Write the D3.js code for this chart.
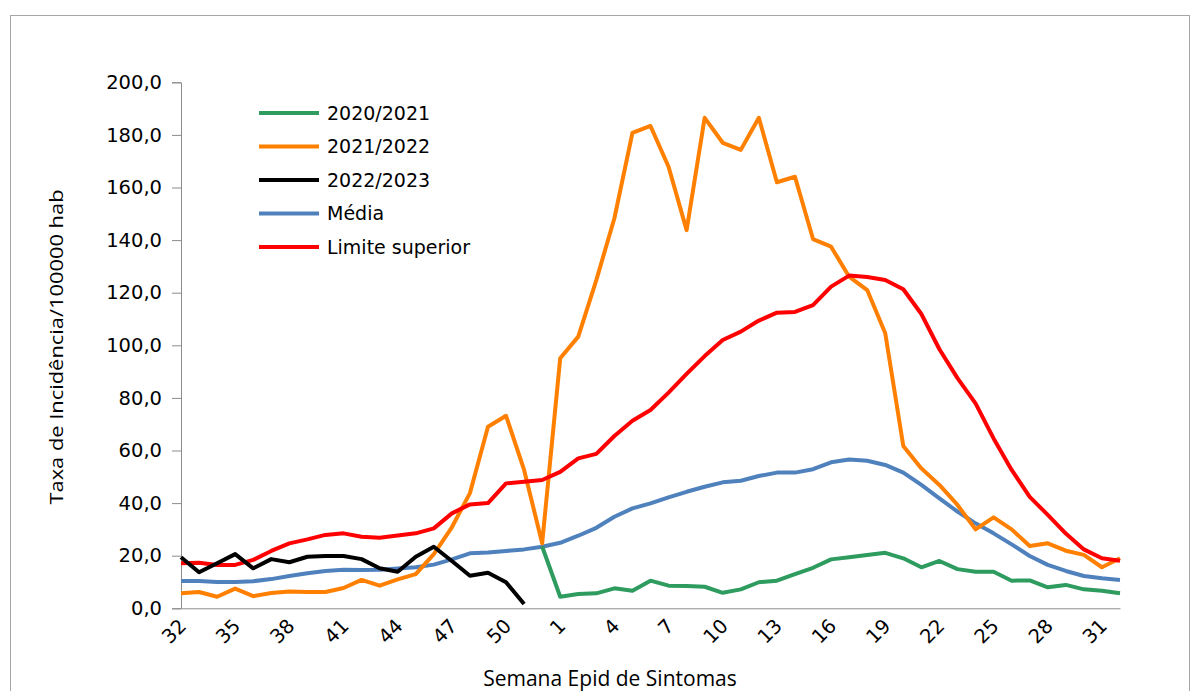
<!DOCTYPE html>
<html>
<head>
<meta charset="utf-8">
<script src="https://cdn.jsdelivr.net/npm/d3@7"></script>
<style>
  body { margin: 0; background: #fff; }
  svg text { font-family: "DejaVu Sans", Verdana, sans-serif; fill: #000; }
</style>
</head>
<body>
<div id="chart"></div>
<script>
// semanas epidemiologicas (32 a 52, depois 1 a 32)
var weeks = [32,33,34,35,36,37,38,39,40,41,42,43,44,45,46,47,48,49,50,51,52,
  1,2,3,4,5,6,7,8,9,10,11,12,13,14,15,16,17,18,19,20,21,22,23,24,25,26,27,28,29,30,31,32];

var s2020 = [null,null,null,null,null,null,null,null,null,null,null,null,null,null,null,null,null,null,null,null,
  23.5,4.4,5.4,5.7,7.6,6.7,10.5,8.6,8.5,8.2,5.9,7.2,9.9,10.5,13.0,15.4,18.6,19.4,20.3,21.1,
  19.0,15.6,18.0,14.9,13.9,13.9,10.5,10.6,8.0,8.9,7.2,6.7,5.7];
var s2021 = [5.7,6.2,4.4,7.5,4.6,5.8,6.4,6.2,6.2,7.7,10.8,8.6,11.0,13.0,20.6,30.8,43.8,69.0,73.2,52.6,
  24.7,95.1,103.3,124.8,148.3,180.8,183.4,167.9,143.8,186.5,177.0,174.3,186.5,162.0,164.1,140.4,137.5,126.1,121.0,104.6,
  61.7,53.2,46.9,39.3,30.0,34.6,30.0,23.7,24.7,21.9,20.3,15.6,19.0];
var s2022 = [19.4,13.7,17.1,20.6,15.2,18.7,17.5,19.6,19.9,19.9,18.7,15.2,13.9,19.6,23.4,18.0,12.4,13.5,9.9,1.6];
var media = [10.4,10.4,10.0,10.0,10.3,11.1,12.3,13.3,14.2,14.7,14.6,14.7,15.1,15.6,16.6,18.6,20.9,21.2,21.8,22.4,
  23.4,24.9,27.6,30.6,34.8,38.0,39.9,42.2,44.3,46.2,47.9,48.5,50.3,51.6,51.6,52.9,55.5,56.6,56.1,54.5,
  51.6,46.9,41.8,36.8,32.3,28.5,24.3,19.9,16.5,14.2,12.3,11.4,10.8];
var limite = [17.1,17.3,16.5,16.5,18.4,21.8,24.7,26.2,27.9,28.5,27.2,26.8,27.7,28.5,30.4,36.1,39.5,40.0,47.5,48.1,
  48.8,51.9,57.0,58.7,65.5,71.3,75.4,82.0,89.1,95.9,102.0,105.2,109.4,112.4,112.7,115.3,122.3,126.5,126.0,124.8,
  121.3,111.9,98.5,87.5,77.9,64.6,52.6,42.4,35.5,28.4,22.4,19.0,18.1];

var seriesNames = ["2020/2021","2021/2022","2022/2023","Média","Limite superior"];
var seriesColors = ["#2e9b5f","#ff8000","#000000","#4f81bd","#ff0000"];
var yTicks = [0,20,40,60,80,100,120,140,160,180,200];

var W = 1198, H = 691;
var margin = {top: 82.3, right: 78, bottom: 82.7, left: 181};
var width = W - margin.left - margin.right,
    height = H - margin.top - margin.bottom;

var svg = d3.select("#chart").append("svg").attr("width", W).attr("height", H);

// moldura
svg.append("rect").attr("x", 10.5).attr("y", 15.5).attr("width", 1179).attr("height", 700)
  .attr("fill", "none").attr("stroke", "#a6a6a6").attr("stroke-width", 1);

var g = svg.append("g").attr("transform", "translate(" + margin.left + "," + margin.top + ")");

var x = d3.scaleLinear().domain([0, weeks.length - 1]).range([0, width]);
var y = d3.scaleLinear().domain([0, 200]).range([height, 0]);

var yAxis = g.append("g")
  .call(d3.axisLeft(y).tickValues(yTicks).tickSize(9).tickPadding(10)
    .tickFormat(function(d){ return d.toFixed(1).replace(".", ","); }));
yAxis.select(".domain").attr("stroke", "#8c8c8c");
yAxis.selectAll(".tick line").attr("stroke", "#8c8c8c");
yAxis.selectAll("text").attr("font-size", "19.5px").attr("fill", "#000");

var xAxis = g.append("g").attr("transform", "translate(0," + height + ")")
  .call(d3.axisBottom(x)
    .tickValues(d3.range(0, weeks.length, 3))
    .tickSize(0)
    .tickFormat(function(i){ return weeks[i]; }));
xAxis.select(".domain").attr("stroke", "#8c8c8c");
xAxis.selectAll("text")
  .attr("font-size", "19.5px").attr("fill", "#000")
  .attr("text-anchor", "end")
  .attr("dy", "0.35em")
  .attr("transform", "translate(-1,12) rotate(-45)");

var line = d3.line()
  .defined(function(d){ return d != null; })
  .x(function(d, i){ return x(i); })
  .y(function(d){ return y(d); });

var allSeries = [s2020, s2021, s2022, media, limite];
// ordem de desenho: media, 2020, 2021, limite, 2022 por cima
var drawOrder = [3, 0, 1, 4, 2];
drawOrder.forEach(function(k){
  g.append("path").datum(allSeries[k])
    .attr("fill", "none")
    .attr("stroke", seriesColors[k])
    .attr("stroke-width", 4)
    .attr("stroke-linejoin", "round")
    .attr("d", line);
});

// legenda
var legend = svg.append("g").attr("transform", "translate(259,113)");
seriesNames.forEach(function(name, i){
  var row = legend.append("g").attr("transform", "translate(0," + (i * 33.5) + ")");
  row.append("line").attr("x1", 0).attr("x2", 60).attr("y1", 0).attr("y2", 0)
    .attr("stroke", seriesColors[i]).attr("stroke-width", 4);
  row.append("text").attr("x", 68).attr("y", 0).attr("dy", "0.36em")
    .attr("font-size", "19px").text(name);
});

// titulos dos eixos
svg.append("text").attr("x", 610).attr("y", 686).attr("text-anchor", "middle")
  .style("font-family", "'Open Sans', sans-serif").attr("font-size", "21px")
  .text("Semana Epid de Sintomas");
svg.append("text").attr("transform", "translate(63,347) rotate(-90)").attr("text-anchor", "middle")
  .style("font-family", "'Open Sans', sans-serif").attr("font-size", "18px")
  .attr("textLength", 315).attr("lengthAdjust", "spacingAndGlyphs")
  .text("Taxa de Incidência/100000 hab");
</script>
</body>
</html>
